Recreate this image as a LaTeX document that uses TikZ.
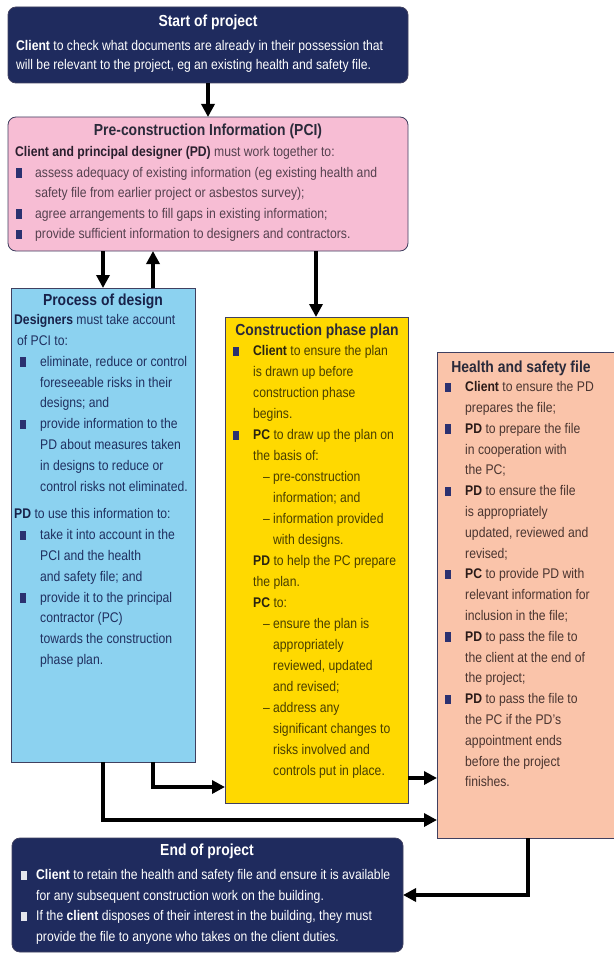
\documentclass[tikz,border=0pt]{standalone}
\usepackage{fontspec}
\setmainfont{Liberation Sans}[FakeStretch=0.87]
\usetikzlibrary{arrows.meta}
\definecolor{navy}{HTML}{1F2B5E}
\definecolor{pinkbg}{HTML}{F7BDD4}
\definecolor{bluebg}{HTML}{8CD2F0}
\definecolor{yellowbg}{HTML}{FFD900}
\definecolor{peachbg}{HTML}{FAC4AA}
\definecolor{edge}{HTML}{404060}
\definecolor{bulnavy}{HTML}{2B3170}
\definecolor{bulwhite}{HTML}{E4E6EE}
\definecolor{txpci}{HTML}{55414F}
\definecolor{bdpci}{HTML}{2A1F2E}
\definecolor{txdes}{HTML}{203060}
\definecolor{bddes}{HTML}{18224A}
\definecolor{txcpp}{HTML}{4A3F00}
\definecolor{bdcpp}{HTML}{2A2410}
\definecolor{txhs}{HTML}{4A3530}
\definecolor{bdhs}{HTML}{2A1A18}
\definecolor{ttdark}{HTML}{2A2A3A}
\colorlet{bc}{black}
\colorlet{bulc}{bulnavy}
\newcommand{\bodyfont}[1]{\fontsize{14}{#1}\selectfont}
\newcommand{\B}[1]{{\bfseries\color{bc}#1}}
\newcommand{\bulsq}{\textcolor{bulc}{\rule[-0.5pt]{5.5pt}{9.5pt}}}
\newcommand{\bi}[2]{\makebox[#1][l]{\bulsq}#2}
\newcommand{\ci}[2]{\hspace*{#1}#2}
\newcommand{\dl}[1]{\hspace*{30pt}\makebox[10pt][l]{–}#1}
\newcommand{\dc}[1]{\hspace*{40pt}#1}
\newcommand{\fs}{\rule{0pt}{12pt}}
\begin{document}
\begin{tikzpicture}[x=1pt,y=-1pt,
  box/.style={draw=edge, line width=0.8pt, anchor=north west, inner sep=0pt, outer sep=0pt},
  ttl/.style={anchor=base, inner sep=0pt, font=\fontsize{16}{19}\selectfont\bfseries},
  body/.style={anchor=north west, align=left, inner sep=0pt},
  conn/.style={line width=4.5pt, -{Triangle[length=13pt,width=13pt]}}]
\useasboundingbox[fill=white] (0,0) rectangle (613,955);

% boxes
\node[box, fill=navy, rounded corners=8pt, minimum width=400pt, minimum height=76pt] (start) at (8,7) {};
\node[box, fill=pinkbg, rounded corners=8pt, minimum width=400pt, minimum height=134pt] (pci) at (8,117) {};
\node[box, fill=bluebg, minimum width=184pt, minimum height=474pt] (design) at (11,288) {};
\node[box, fill=yellowbg, minimum width=183pt, minimum height=486pt] (cpp) at (225,317) {};
\node[box, fill=peachbg, minimum width=190pt, minimum height=486pt] (hs) at (437,352) {};
\node[box, fill=navy, rounded corners=8pt, minimum width=391pt, minimum height=114pt] (endp) at (12,838) {};

% titles
\node[ttl, text=white] (tstart) at (208,26.5) {Start of project};
\node[ttl, text=ttdark] (tpci) at (208,135.5) {Pre-construction Information (PCI)};
\node[ttl, text=bddes] (tdes) at (103,305.5) {Process of design};
\node[ttl, text=ttdark] (tcpp) at (317,335.5) {Construction phase plan};
\node[ttl, text=ttdark] (ths) at (521,372.5) {Health and safety file};
\node[ttl, text=white] (tend) at (207,855.5) {End of project};

% texts
\node[body, text=white, font=\colorlet{bc}{white}\bodyfont{19}] (bstart) at (16,38.5) {\fs\B{Client} to check what documents are already in their possession that\\
will be relevant to the project, eg an existing health and safety file.};

\node[body, text=txpci, font=\colorlet{bc}{bdpci}\bodyfont{20.5}] (bpci) at (16,144.5) {\fs\ci{-1pt}{\B{Client and principal designer (PD)} must work together to:}\\
\bi{19pt}{assess adequacy of existing information (eg existing health and}\\
\ci{19pt}{safety file from earlier project or asbestos survey);}\\
\bi{19pt}{agree arrangements to fill gaps in existing information;}\\
\bi{19pt}{provide sufficient information to designers and contractors.}};

\node[body, text=txdes, font=\colorlet{bc}{bddes}\bodyfont{20.8}] (bdes) at (20,312.5) {\fs\ci{-6pt}{\B{Designers} must take account}\\
\ci{-3pt}{of PCI to:}\\
\bi{20pt}{eliminate, reduce or control}\\
\ci{20pt}{foreseeable risks in their}\\
\ci{20pt}{designs; and}\\
\bi{20pt}{provide information to the}\\
\ci{20pt}{PD about measures taken}\\
\ci{20pt}{in designs to reduce or}\\
\ci{20pt}{control risks not eliminated.}\\[7pt]
\ci{-6pt}{\B{PD} to use this information to:}\\
\bi{20pt}{take it into account in the}\\
\ci{20pt}{PCI and the health}\\
\ci{20pt}{and safety file; and}\\
\bi{20pt}{provide it to the principal}\\
\ci{20pt}{contractor (PC)}\\
\ci{20pt}{towards the construction}\\
\ci{20pt}{phase plan.}};

\node[body, text=txcpp, font=\colorlet{bc}{bdcpp}\bodyfont{21}] (bcpp) at (233,343.5) {\fs\bi{20pt}{\B{Client} to ensure the plan}\\
\ci{20pt}{is drawn up before}\\
\ci{20pt}{construction phase}\\
\ci{20pt}{begins.}\\
\bi{20pt}{\B{PC} to draw up the plan on}\\
\ci{20pt}{the basis of:}\\
\dl{pre-construction}\\
\dc{information; and}\\
\dl{information provided}\\
\dc{with designs.}\\
\ci{20pt}{\B{PD} to help the PC prepare}\\
\ci{20pt}{the plan.}\\
\ci{20pt}{\B{PC} to:}\\
\dl{ensure the plan is}\\
\dc{appropriately}\\
\dc{reviewed, updated}\\
\dc{and revised;}\\
\dl{address any}\\
\dc{significant changes to}\\
\dc{risks involved and}\\
\dc{controls put in place.}};

\node[body, text=txhs, font=\colorlet{bc}{bdhs}\bodyfont{20.8}] (bhs) at (445,379.5) {\fs\bi{20pt}{\B{Client} to ensure the PD}\\
\ci{20pt}{prepares the file;}\\
\bi{20pt}{\B{PD} to prepare the file}\\
\ci{20pt}{in cooperation with}\\
\ci{20pt}{the PC;}\\
\bi{20pt}{\B{PD} to ensure the file}\\
\ci{20pt}{is appropriately}\\
\ci{20pt}{updated, reviewed and}\\
\ci{20pt}{revised;}\\
\bi{20pt}{\B{PC} to provide PD with}\\
\ci{20pt}{relevant information for}\\
\ci{20pt}{inclusion in the file;}\\
\bi{20pt}{\B{PD} to pass the file to}\\
\ci{20pt}{the client at the end of}\\
\ci{20pt}{the project;}\\
\bi{20pt}{\B{PD} to pass the file to}\\
\ci{20pt}{the PC if the PD’s}\\
\ci{20pt}{appointment ends}\\
\ci{20pt}{before the project}\\
\ci{20pt}{finishes.}};

\node[body, text=white, font=\colorlet{bc}{white}\colorlet{bulc}{bulwhite}\bodyfont{20.5}] (bend) at (21,867.5) {\fs\bi{15pt}{\B{Client} to retain the health and safety file and ensure it is available}\\
\ci{15pt}{for any subsequent construction work on the building.}\\
\bi{15pt}{If the \B{client} disposes of their interest in the building, they must}\\
\ci{15pt}{provide the file to anyone who takes on the client duties.}};

% connector helpers
\coordinate (xa) at (103,0);
\coordinate (xb) at (153,0);
\coordinate (xc) at (316,0);
\coordinate (xe) at (528,0);
\coordinate (ya) at (0,787);
\coordinate (yb) at (0,820);
\coordinate (yc) at (0,778);
\coordinate (yd) at (0,895);

% connectors
\draw[conn] (start) -- (pci);
\draw[conn] (pci.south -| xa) -- (design.north -| xa);
\draw[conn] (design.north -| xb) -- (pci.south -| xb);
\draw[conn] (pci.south -| xc) -- (cpp.north -| xc);
\draw[conn] (design.south -| xb) |- (cpp.west |- ya);
\draw[conn] (design.south -| xa) |- (hs.west |- yb);
\draw[conn] (cpp.east |- yc) -- (hs.west |- yc);
\draw[conn] (hs.south -| xe) |- (endp.east |- yd);
\end{tikzpicture}
\end{document}
